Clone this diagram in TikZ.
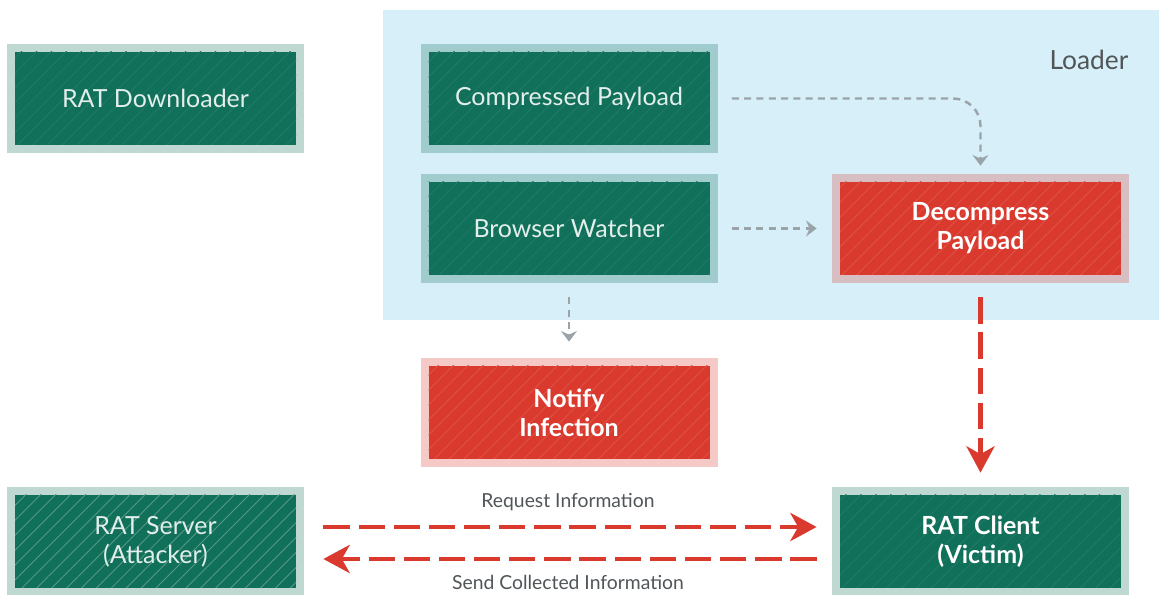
\documentclass[tikz,border=0pt]{standalone}
\usepackage{fontspec}
\setmainfont{Lato}
\usetikzlibrary{arrows.meta,positioning,patterns.meta}
\definecolor{cGRN}{HTML}{11705A}
\definecolor{cRED}{HTML}{DA3A2E}
\definecolor{cSKY}{HTML}{D6EFF9}
\definecolor{cGRY}{HTML}{9AA4A8}
\definecolor{cTXT}{HTML}{505558}

\tikzset{
  box/.style={minimum width=5.62cm, minimum height=1.86cm, inner sep=0pt, align=center,
    font=\fontsize{14.2}{16.5}\selectfont},
  hatch/.style n args={2}{fill=#1,
    preaction={draw=#1, draw opacity=.27, line width=.32cm},
    postaction={pattern={Lines[angle=45,distance=6pt,line width=.5pt]}, pattern color=#2}},
  grnbox/.style={box, hatch={cGRN}{cGRN!93!white}, text=white!88!cGRN},
  redbox/.style={box, hatch={cRED}{cRED!88!white}, text=white, font=\fontsize{14.2}{16.5}\selectfont\bfseries},
  gryarrow/.style={cGRY, line width=1.4pt, dash pattern=on 4pt off 3pt,
    -{Stealth[length=6pt,width=9pt,inset=2pt]}},
  redarrow/.style={cRED, line width=2.8pt, dash pattern=on 15pt off 5pt,
    -{Stealth[length=15pt,width=16pt,inset=4.5pt]}},
  lbl/.style={text=cTXT, font=\fontsize{11}{13}\selectfont}
}

\begin{document}
\begin{tikzpicture}
\useasboundingbox (0,0) rectangle (23.18,11.9);
\fill[cSKY] (7.66,5.5) rectangle (23.18,11.7);
\node[text=cTXT, font=\fontsize{15}{17}\selectfont] (loader) at (21.78,10.7) {Loader};

\node[grnbox] (dl) at (3.11,9.93) {RAT Downloader};
\node[grnbox] (cp) at (11.38,9.93) {Compressed Payload};
\node[grnbox] (bw) at (11.38,7.33) {Browser Watcher};
\node[redbox] (dp) at (19.61,7.33) {Decompress\\Payload};
\node[redbox] (ni) at (11.38,3.65) {Notify\\Infection};
\node[box, hatch={cGRN}{cGRN!72!white}, text=white!88!cGRN] (rs) at (3.11,1.07) {RAT Server\\(Attacker)};
\node[box, hatch={cGRN}{cGRN!93!white}, text=white, font=\fontsize{14.2}{16.5}\selectfont\bfseries]
  (rc) at (19.61,1.07) {RAT Client\\(Victim)};

\draw[gryarrow, rounded corners=.55cm, shorten <=.44cm, shorten >=.32cm] (cp.east) -| (dp.north);
\draw[gryarrow, shorten <=.44cm, shorten >=.46cm] (bw.east) -- (dp.west);
\draw[gryarrow, shorten <=.44cm, shorten >=.48cm] (bw.south) -- (ni.north);
\draw[redarrow, shorten <=.44cm, shorten >=.44cm] (dp.south) -- (rc.north);
\draw[redarrow, shorten <=.54cm, shorten >=.46cm] ([yshift=.29cm]rs.east) -- ([yshift=.29cm]rc.west)
  node[lbl, midway, yshift=.5cm] {Request Information};
\draw[redarrow, shorten <=.46cm, shorten >=.54cm] ([yshift=-.35cm]rc.west) -- ([yshift=-.35cm]rs.east)
  node[lbl, midway, yshift=-.46cm] {Send Collected Information};
\end{tikzpicture}
\end{document}
